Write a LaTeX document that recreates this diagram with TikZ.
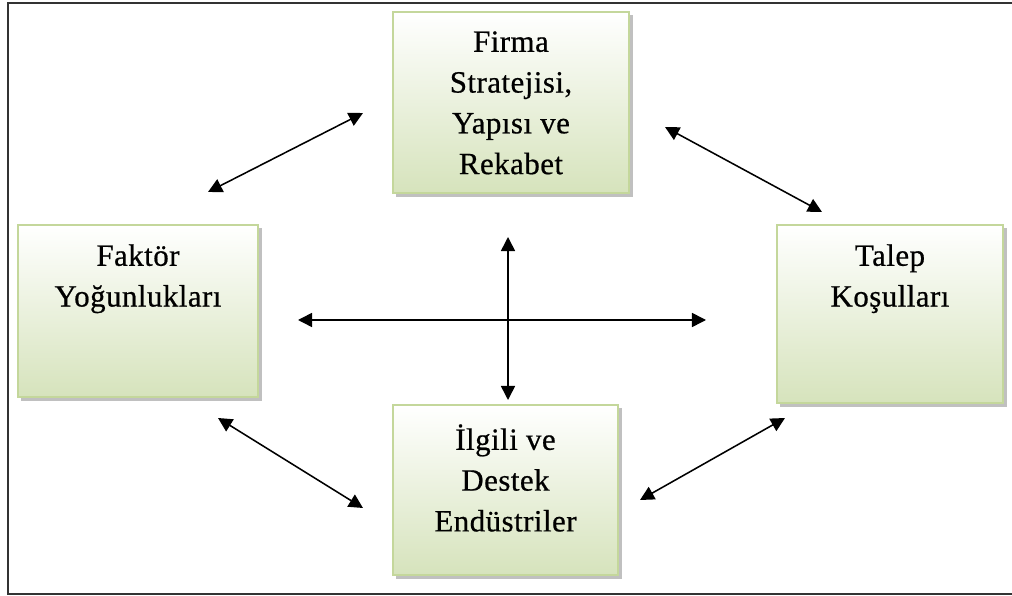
\documentclass[tikz,border=0pt]{standalone}
\usepackage{fontspec}
\setmainfont{Liberation Serif}[LetterSpace=1.5,FakeBold=0.6]
\usetikzlibrary{positioning,arrows.meta,shadows}
\definecolor{boxgreen}{RGB}{214,227,188}
\definecolor{boxedge}{RGB}{196,215,155}
\begin{document}
\begin{tikzpicture}
    [x=0.025cm,y=-0.025cm,
     box/.style={rectangle,draw=boxedge,line width=0.8pt,top color=white,bottom color=boxgreen,
       drop shadow={shadow xshift=2.5pt,shadow yshift=-2.5pt,fill=black!55,opacity=0.45}},
     lbl/.style={inner sep=0pt,align=center,font=\fontsize{22}{29}\selectfont},
     link/.style={{Triangle[length=10pt,width=10pt]}-{Triangle[length=10pt,width=10pt]},line width=1.1pt}]
    \useasboundingbox (0,0) rectangle (1012,596);
    \draw [line width=1.6pt,black!80] (1020,3) -- (8,3) -- (8,594) -- (1020,594);
    % the four boxes
    \node (firma) at (511,102.5) [box,minimum width=5.9cm,minimum height=4.525cm] {};
    \node (faktor) at (138,311) [box,minimum width=6cm,minimum height=4.3cm] {};
    \node (talep) at (890,314) [box,minimum width=5.65cm,minimum height=4.45cm] {};
    \node (ilgili) at (505.5,490) [box,minimum width=5.625cm,minimum height=4.25cm] {};
    \node (firmaText) [lbl,below=4.9mm of firma.north] {Firma\\Stratejisi,\\Yapısı ve\\Rekabet};
    \node (faktorText) [lbl,below=4.9mm of faktor.north] {Faktör\\Yoğunlukları};
    \node (talepText) [lbl,below=4.9mm of talep.north] {Talep\\Koşulları};
    \node (ilgiliText) [lbl,below=4.9mm of ilgili.north] {İlgili ve\\Destek\\Endüstriler};
    % arrow ends
    \coordinate (fkA) at (208,192);
    \coordinate (fkB) at (363,113);
    \coordinate (ftA) at (665,127);
    \coordinate (ftB) at (822,212);
    \coordinate (kiA) at (218,418);
    \coordinate (kiB) at (363,508);
    \coordinate (tiA) at (785,418);
    \coordinate (tiB) at (640,500);
    \coordinate (hA) at (298,320);
    \coordinate (hB) at (706,320);
    \coordinate (vA) at (508,237);
    \coordinate (vB) at (508,400);
    \draw [link] (fkA) to (fkB);
    \draw [link] (ftA) to (ftB);
    \draw [link] (kiA) to (kiB);
    \draw [link] (tiA) to (tiB);
    \draw [link] (hA) to (hB);
    \draw [link] (vA) to (vB);
  \end{tikzpicture}
\end{document}
